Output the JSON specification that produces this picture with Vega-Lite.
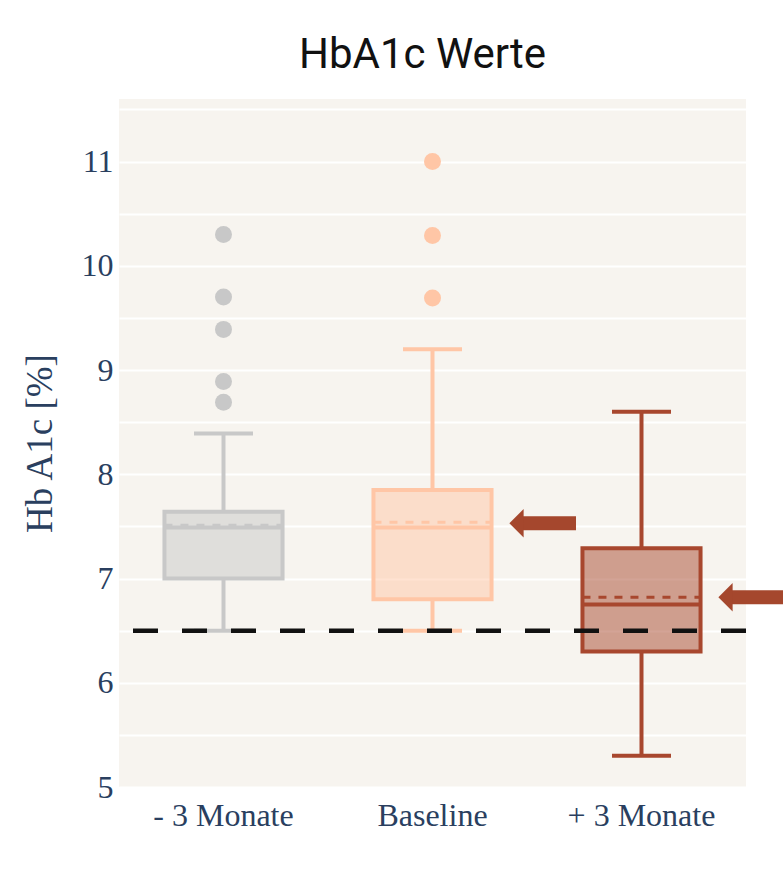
{
  "$schema": "https://vega.github.io/schema/vega-lite/v6.json",
  "width": 627,
  "height": 688,
  "autosize": {"type": "none"},
  "padding": {"left": 119, "top": 99, "right": 37, "bottom": 90},
  "background": "white",
  "title": {"text": "HbA1c Werte", "font": "Roboto", "fontSize": 42, "fontWeight": "normal", "color": "#111111", "anchor": "middle", "dx": -10, "offset": 22},
  "config": {"view": {"fill": "#f7f4ef", "stroke": null}},
  "datasets": {
    "boxes": [
      {"cat": "- 3 Monate", "lo": 6.5, "q1": 7.0, "med": 7.49, "mean": 7.51, "q3": 7.64, "hi": 8.39},
      {"cat": "Baseline", "lo": 6.5, "q1": 6.8, "med": 7.49, "mean": 7.54, "q3": 7.85, "hi": 9.2},
      {"cat": "+ 3 Monate", "lo": 5.3, "q1": 6.3, "med": 6.75, "mean": 6.82, "q3": 7.29, "hi": 8.6}
    ],
    "outliers": [
      {"cat": "- 3 Monate", "v": 10.3},
      {"cat": "- 3 Monate", "v": 9.7},
      {"cat": "- 3 Monate", "v": 9.39},
      {"cat": "- 3 Monate", "v": 8.89},
      {"cat": "- 3 Monate", "v": 8.69},
      {"cat": "Baseline", "v": 11.0},
      {"cat": "Baseline", "v": 10.29},
      {"cat": "Baseline", "v": 9.69}
    ],
    "arrows": [
      {"cat": "Baseline", "v": 7.53},
      {"cat": "+ 3 Monate", "v": 6.82}
    ]
  },
  "layer": [
    {
      "data": {"name": "boxes"},
      "mark": {"type": "rule", "strokeWidth": 4, "opacity": 1},
      "encoding": {
        "x": {"field": "cat", "type": "nominal", "sort": ["- 3 Monate", "Baseline", "+ 3 Monate"], "scale": {"paddingInner": 0, "paddingOuter": 0},
              "axis": {"domain": false, "ticks": false, "grid": false, "labelFont": "Liberation Serif", "labelFontSize": 32, "labelColor": "#2a3f5f", "labelPadding": 13, "labelAngle": 0}, "title": null},
        "y": {"field": "lo", "type": "quantitative", "scale": {"domain": [5, 11.6], "nice": false, "zero": false},
              "axis": {"values": [5, 5.5, 6, 6.5, 7, 7.5, 8, 8.5, 9, 9.5, 10, 10.5, 11, 11.5], "labelExpr": "datum.value % 1 === 0 ? format(datum.value, 'd') : ''", "grid": true, "gridColor": "#ffffff", "gridWidth": 2, "domain": false, "ticks": false, "labelFont": "Liberation Serif", "labelFontSize": 32, "labelColor": "#2a3f5f", "labelPadding": 6, "titleFont": "Liberation Serif", "titleFontSize": 37, "titleFontWeight": "normal", "titleColor": "#2a3f5f", "titlePadding": 22},
              "title": "Hb A1c [%]"},
        "y2": {"field": "q1"},
        "color": {"field": "cat", "type": "nominal", "scale": {"domain": ["- 3 Monate", "Baseline", "+ 3 Monate"], "range": ["#c8c8c8", "#ffc6a6", "#a8472e"]}, "legend": null}
      }
    },
    {
      "data": {"name": "boxes"},
      "mark": {"type": "rule", "strokeWidth": 4, "opacity": 1},
      "encoding": {
        "x": {"field": "cat", "type": "nominal", "sort": ["- 3 Monate", "Baseline", "+ 3 Monate"]},
        "y": {"field": "q3", "type": "quantitative"},
        "y2": {"field": "hi"},
        "color": {"field": "cat", "type": "nominal", "legend": null}
      }
    },
    {
      "data": {"name": "boxes"},
      "mark": {"type": "bar", "width": {"band": 0.565}, "fillOpacity": 0.5, "strokeWidth": 4, "opacity": 1},
      "encoding": {
        "x": {"field": "cat", "type": "nominal", "sort": ["- 3 Monate", "Baseline", "+ 3 Monate"]},
        "y": {"field": "q1", "type": "quantitative"},
        "y2": {"field": "q3"},
        "fill": {"field": "cat", "type": "nominal", "scale": {"domain": ["- 3 Monate", "Baseline", "+ 3 Monate"], "range": ["#c8c8c8", "#ffc6a6", "#a8472e"]}, "legend": null},
        "stroke": {"field": "cat", "type": "nominal", "scale": {"domain": ["- 3 Monate", "Baseline", "+ 3 Monate"], "range": ["#c8c8c8", "#ffc6a6", "#a8472e"]}, "legend": null}
      }
    },
    {
      "data": {"name": "boxes"},
      "mark": {"type": "tick", "size": 118, "thickness": 4, "opacity": 1},
      "encoding": {
        "x": {"field": "cat", "type": "nominal", "sort": ["- 3 Monate", "Baseline", "+ 3 Monate"]},
        "y": {"field": "med", "type": "quantitative"},
        "color": {"field": "cat", "type": "nominal", "legend": null}
      }
    },
    {
      "data": {"name": "boxes"},
      "mark": {"type": "rule", "strokeWidth": 3, "strokeDash": [8, 8], "opacity": 1},
      "encoding": {
        "x": {"field": "cat", "type": "nominal", "sort": ["- 3 Monate", "Baseline", "+ 3 Monate"], "bandPosition": 0.2175},
        "x2": {"field": "cat", "bandPosition": 0.7825},
        "y": {"field": "mean", "type": "quantitative"},
        "color": {"field": "cat", "type": "nominal", "legend": null}
      }
    },
    {
      "data": {"name": "boxes"},
      "transform": [{"fold": ["lo", "hi"], "as": ["k", "v"]}],
      "mark": {"type": "tick", "size": 59, "thickness": 4, "opacity": 1},
      "encoding": {
        "x": {"field": "cat", "type": "nominal", "sort": ["- 3 Monate", "Baseline", "+ 3 Monate"]},
        "y": {"field": "v", "type": "quantitative"},
        "color": {"field": "cat", "type": "nominal", "legend": null}
      }
    },
    {
      "data": {"name": "outliers"},
      "mark": {"type": "point", "filled": true, "size": 289, "opacity": 1, "shape": "circle"},
      "encoding": {
        "x": {"field": "cat", "type": "nominal", "sort": ["- 3 Monate", "Baseline", "+ 3 Monate"]},
        "y": {"field": "v", "type": "quantitative"},
        "color": {"field": "cat", "type": "nominal", "legend": null}
      }
    },
    {
      "data": {"values": [{"t": 6.5}]},
      "mark": {"type": "rule", "color": "#111111", "strokeWidth": 4.5, "strokeDash": [25, 24], "opacity": 1},
      "encoding": {
        "y": {"field": "t", "type": "quantitative"}
      }
    },
    {
      "data": {"name": "arrows"},
      "mark": {"type": "tick", "size": 53, "thickness": 14, "xOffset": 117, "color": "#a5472d", "opacity": 1},
      "encoding": {
        "x": {"field": "cat", "type": "nominal", "sort": ["- 3 Monate", "Baseline", "+ 3 Monate"]},
        "y": {"field": "v", "type": "quantitative"}
      }
    },
    {
      "data": {"name": "arrows"},
      "mark": {"type": "point", "filled": true, "shape": "M -0.5 0 L 0.5 -1 L 0.5 1 Z", "size": 807, "xOffset": 84, "color": "#a5472d", "opacity": 1},
      "encoding": {
        "x": {"field": "cat", "type": "nominal", "sort": ["- 3 Monate", "Baseline", "+ 3 Monate"]},
        "y": {"field": "v", "type": "quantitative"}
      }
    }
  ]
}
